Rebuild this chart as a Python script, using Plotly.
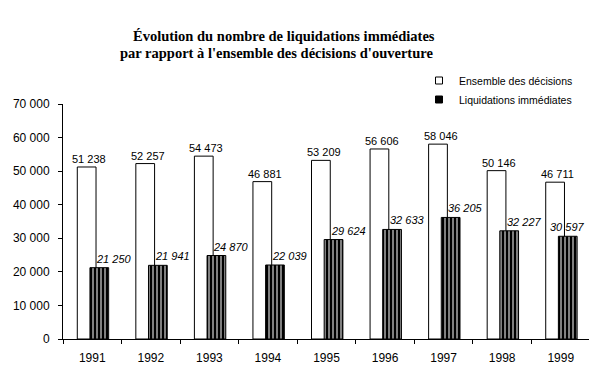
import plotly.graph_objects as go

years = ["1991", "1992", "1993", "1994", "1995", "1996", "1997", "1998", "1999"]
ensemble = [51238, 52257, 54473, 46881, 53209, 56606, 58046, 50146, 46711]
liquidations = [21250, 21941, 24870, 22039, 29624, 32633, 36205, 32227, 30597]
y_ticks = [0, 10000, 20000, 30000, 40000, 50000, 60000, 70000]

name_ens = "Ensemble des décisions"
name_liq = "Liquidations immédiates"
title_line1 = "<b>Évolution du nombre de liquidations immédiates</b>"
title_line2 = "<b>par rapport à l'ensemble des décisions d'ouverture</b>"


def fmt(v):
    return f"{v:,}".replace(",", " ")


SANS = "Liberation Sans, Arial, sans-serif"
SERIF = "Liberation Serif, Times New Roman, serif"

# the page body has an 8px default margin; size the figure to fill the rest
OFF = 8
W, H = 597 - OFF, 380 - OFF
ML, MR, MT, MB = 63 - OFF, 7, 104 - OFF, 41
PW, PH = W - ML - MR, H - MT - MB


def px_to_paper_x(px):  # page pixel -> paper fraction
    return (px - OFF - ML) / PW


def px_to_paper_y(py):
    return (H - MB - (py - OFF)) / PH


fig = go.Figure()
fig.add_trace(go.Bar(
    x=years, y=ensemble, name=name_ens, showlegend=False,
    width=0.32, offset=-0.256,
    marker=dict(color="white", line=dict(color="black", width=1)),
))
fig.add_trace(go.Bar(
    x=years, y=liquidations, name=name_liq, showlegend=False,
    width=0.32, offset=-0.04,
    marker=dict(color="black", line=dict(color="black", width=1),
                pattern=dict(shape="|", bgcolor="black", fgcolor="white",
                             size=4, solidity=0.25, fillmode="replace")),
))
# legend entries (small square swatches)
fig.add_trace(go.Scatter(x=years[:1], y=[None], mode="markers", name=name_ens,
                         marker=dict(symbol="square", size=7, color="white",
                                     line=dict(color="black", width=1))))
fig.add_trace(go.Scatter(x=years[:1], y=[None], mode="markers", name=name_liq,
                         marker=dict(symbol="square", size=7, color="black",
                                     line=dict(color="black", width=1))))

annotations = []
for i, v in enumerate(ensemble):
    annotations.append(dict(x=i, y=v, xref="x", yref="y", text=fmt(v),
                            showarrow=False, xanchor="center", yanchor="bottom",
                            xshift=-3, yshift=0,
                            font=dict(family=SANS, size=11, color="black")))
for i, v in enumerate(liquidations):
    last = i == len(years) - 1
    annotations.append(dict(x=i, y=v, xref="x", yref="y", text=f"<i>{fmt(v)}</i>",
                            showarrow=False, xanchor="center", yanchor="bottom",
                            xshift=7 if last else 22, yshift=1,
                            font=dict(family=SANS, size=11, color="black")))
# two-line title
annotations.append(dict(x=px_to_paper_x(284), y=px_to_paper_y(36), xref="paper", yref="paper",
                        text=title_line1, showarrow=False, xanchor="center", yanchor="middle",
                        font=dict(family=SERIF, size=14.5, color="black")))
annotations.append(dict(x=px_to_paper_x(276), y=px_to_paper_y(53), xref="paper", yref="paper",
                        text=title_line2, showarrow=False, xanchor="center", yanchor="middle",
                        font=dict(family=SERIF, size=14.5, color="black")))

fig.update_layout(
    width=W, height=H,
    margin=dict(l=ML, r=MR, t=MT, b=MB, pad=0, autoexpand=False),
    paper_bgcolor="white", plot_bgcolor="white",
    barmode="overlay",
    separators=", ",
    font=dict(family=SANS, size=12, color="black"),
    legend=dict(xref="paper", yref="paper", x=px_to_paper_x(419), y=px_to_paper_y(66),
                xanchor="left", yanchor="top", bgcolor="rgba(0,0,0,0)",
                font=dict(family=SANS, size=10.5, color="black"),
                itemwidth=30, tracegroupgap=0),
    annotations=annotations,
    showlegend=True,
)
fig.update_xaxes(type="category", categoryorder="array", categoryarray=years,
                 range=[-0.5, len(years) - 0.5],
                 showgrid=False, showline=True, linecolor="black",
                 linewidth=1, ticks="outside", ticklen=4, tickcolor="black",
                 tickson="boundaries", ticklabelstandoff=8,
                 tickfont=dict(family=SANS, size=12, color="black"))
fig.update_yaxes(range=[0, 70000], tickvals=y_ticks, tickformat=",d",
                 showgrid=False, zeroline=False, showline=True, linecolor="black",
                 linewidth=1, ticks="outside", ticklen=4, tickcolor="black",
                 ticklabelstandoff=6,
                 tickfont=dict(family=SANS, size=12, color="black"))

fig.write_html("out.html")
